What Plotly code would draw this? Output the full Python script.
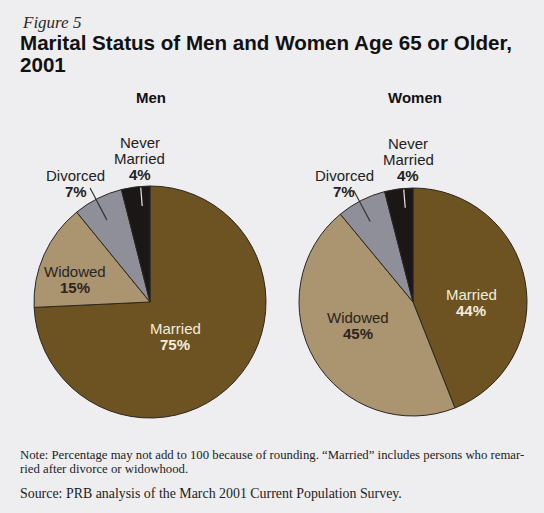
import math
import plotly.graph_objects as go

# Marital status of people age 65+, 2001 (percent)
categories = ["Married", "Widowed", "Divorced", "Never Married"]
men_values = [75, 15, 7, 4]
women_values = [44, 45, 7, 4]

slice_colors = ["#6d5322", "#ab9470", "#8f8f99", "#1b1717"]
W, H = 544, 513

SANS = "Liberation Sans, Arial, sans-serif"
SERIF = "Liberation Serif, Times New Roman, serif"

# Pie placement (pixels): centre x, centre y, radius
men_geom = (150, 302, 116)
women_geom = (413, 302, 114)

# Label placement per pie: category -> (angle offset from slice middle, radius fraction)
men_label_pos = {"Married": (10.0, 0.364), "Widowed": (-7.7, 0.674),
                 "Divorced": (-5.2, 1.208), "Never Married": (3.1, 1.244)}
women_label_pos = {"Married": (10.8, 0.509), "Widowed": (7.9, 0.523),
                   "Divorced": (-3.3, 1.199), "Never Married": (5.2, 1.25)}

label_lines = {"Married": ["Married"], "Widowed": ["Widowed"],
               "Divorced": ["Divorced"], "Never Married": ["Never", "Married"]}
label_colors = {"Married": "#f3ecdc", "Widowed": "#2a2520",
                "Divorced": "#222222", "Never Married": "#222222"}
LINE_GAP = 16  # px between label lines


def domain(geom):
    cx, cy, r = geom
    return dict(x=[(cx - r) / W, (cx + r) / W],
                y=[1 - (cy + r) / H, 1 - (cy - r) / H])


def mid_angles(values):
    total = sum(values)
    out, acc = [], 0.0
    for v in values:
        out.append((acc + v / 2) / total * 360.0)
        acc += v
    return out


def polar_px(geom, angle, frac):
    cx, cy, r = geom
    a = math.radians(angle)
    return cx + frac * r * math.sin(a), cy - frac * r * math.cos(a)


def text(px, py, s, size, color, family=SANS, xanchor="center"):
    return dict(x=px / W, y=1 - py / H, xref="paper", yref="paper",
                showarrow=False, text=s, xanchor=xanchor, yanchor="middle",
                font=dict(family=family, size=size, color=color))


fig = go.Figure()
for vals, geom in ((men_values, men_geom), (women_values, women_geom)):
    fig.add_trace(go.Pie(
        labels=categories, values=vals, sort=False, direction="clockwise",
        rotation=0, textinfo="none", hoverinfo="label+percent",
        marker=dict(colors=slice_colors, line=dict(color="#2a2620", width=1)),
        domain=domain(geom), showlegend=False,
    ))

annotations = []
shapes = []

for vals, geom, placement in ((men_values, men_geom, men_label_pos),
                              (women_values, women_geom, women_label_pos)):
    for cat, v, ang in zip(categories, vals, mid_angles(vals)):
        off, frac = placement[cat]
        cx, cy = polar_px(geom, ang + off, frac)
        lines = [(s, False) for s in label_lines[cat]] + [(f"{v}%", True)]
        n = len(lines)
        for i, (s, bold) in enumerate(lines):
            py = cy + (i - (n - 1) / 2) * LINE_GAP
            annotations.append(text(cx, py, f"<b>{s}</b>" if bold else s,
                                    15, label_colors[cat]))
        # leader lines for the small slices
        if cat == "Divorced":
            p0 = polar_px(geom, ang - 1.0, 0.80)
            p1 = polar_px(geom, ang - 1.0, 1.11)
            lc = "#333333"
        elif cat == "Never Married":
            p0 = polar_px(geom, ang + 2.5, 0.83)
            p1 = polar_px(geom, ang + 2.5, 0.99)
            lc = "#e6e6e6"
        else:
            continue
        shapes.append(dict(type="line", xref="paper", yref="paper",
                           x0=p0[0] / W, y0=1 - p0[1] / H,
                           x1=p1[0] / W, y1=1 - p1[1] / H,
                           line=dict(color=lc, width=1.2)))

# headings and notes
annotations += [
    text(20, 23, "<i>Figure 5</i>", 17, "#2a2a2a", SERIF, "left"),
    text(18, 42, "<b>Marital Status of Men and Women Age 65 or Older,</b>", 20.6, "#111111", SANS, "left"),
    text(18, 64, "<b>2001</b>", 20.6, "#111111", SANS, "left"),
    text(151, 97, "<b>Men</b>", 15, "#111111"),
    text(415, 97, "<b>Women</b>", 15, "#111111"),
    text(18, 455, "Note: Percentage may not add to 100 because of rounding. \u201cMarried\u201d includes persons who remar-",
         12.75, "#222222", SERIF, "left"),
    text(18, 469, "ried after divorce or widowhood.", 12.75, "#222222", SERIF, "left"),
    text(18, 493, "Source: PRB analysis of the March 2001 Current Population Survey.",
         13.9, "#222222", SERIF, "left"),
]

fig.update_layout(
    width=W, height=H, margin=dict(l=0, r=0, t=0, b=0),
    paper_bgcolor="#eeeef1", plot_bgcolor="#eeeef1",
    annotations=annotations, shapes=shapes,
)

fig.write_html("out.html")
